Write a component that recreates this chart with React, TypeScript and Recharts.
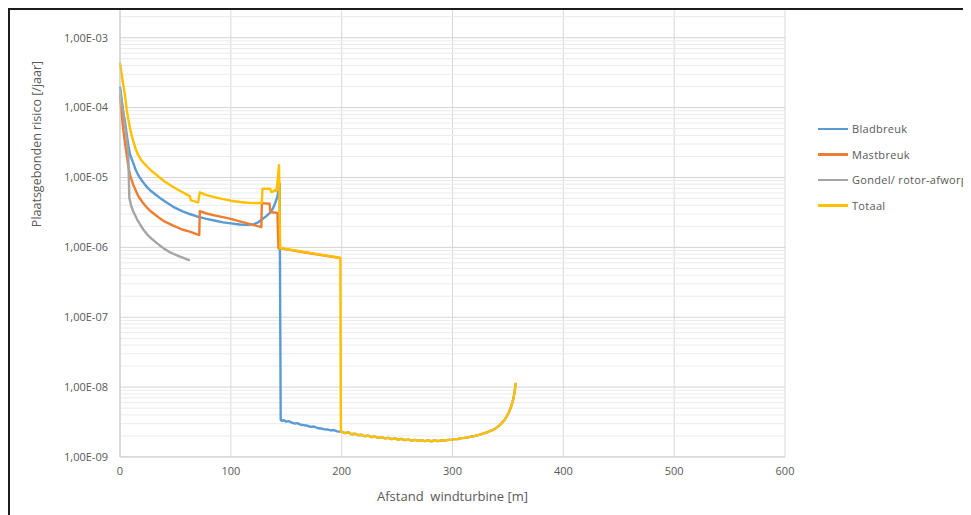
import React from 'react';
import { LineChart, Line, XAxis, YAxis, CartesianGrid, Label, ReferenceLine } from 'recharts';

// afstand tot windturbine [m]
const xTicks = [0, 100, 200, 300, 400, 500, 600];
const yTicks = [1e-9, 1e-8, 1e-7, 1e-6, 1e-5, 1e-4, 1e-3];

// Bladbreuk – nabije zone (tot mast/tiphoogte)
const bladNearX = [0, 1.5, 3, 4.5, 6, 7.5, 9, 10.5, 12, 14, 16, 18, 20, 22.5, 25, 28, 32, 36, 40, 48, 56, 63, 70, 78, 86, 93, 100, 108, 115, 121, 125, 128, 132, 135, 138, 140, 142, 143, 144];
const bladNearY = [2.0e-4, 1.3e-4, 8.5e-5, 6.3e-5, 4.2e-5, 2.9e-5, 2.15e-5, 1.85e-5, 1.6e-5, 1.3e-5, 1.12e-5, 9.9e-6, 8.9e-6, 7.9e-6, 7.1e-6, 6.4e-6, 5.7e-6, 5.1e-6, 4.6e-6, 3.8e-6, 3.3e-6, 3.0e-6, 2.75e-6, 2.55e-6, 2.4e-6, 2.28e-6, 2.2e-6, 2.12e-6, 2.1e-6, 2.15e-6, 2.3e-6, 2.5e-6, 2.8e-6, 3.1e-6, 3.6e-6, 4.3e-6, 5.3e-6, 6.5e-6, 8.3e-6];

// Bladbreuk – verre zone (na de sprong)
const bladFarX = [145, 146, 148, 150, 152, 155, 158, 160, 163, 166, 169, 172, 175, 178, 181, 184, 187, 190, 193, 196, 199,
  200, 203, 206, 209, 212, 215, 218, 221, 224, 227, 230, 233, 236, 239, 242, 245, 248, 251, 254, 257, 260, 263, 266, 269, 272, 275, 278, 281, 284, 287, 290, 293, 296, 299,
  302, 305, 308, 311, 314, 317, 320, 323, 326, 329, 332, 335, 338, 341, 344, 347, 349, 351, 353, 354.5, 356, 357];
const bladFarY = [3.4e-9, 3.3e-9, 3.36e-9, 3.2e-9, 3.26e-9, 3.1e-9, 3.0e-9, 3.06e-9, 2.9e-9, 2.86e-9, 2.8e-9, 2.7e-9, 2.73e-9, 2.6e-9, 2.56e-9, 2.5e-9, 2.48e-9, 2.4e-9, 2.43e-9, 2.33e-9, 2.3e-9,
  2.3e-9, 2.2e-9, 2.25e-9, 2.12e-9, 2.15e-9, 2.05e-9, 2.08e-9, 1.98e-9, 2.02e-9, 1.93e-9, 1.96e-9, 1.88e-9, 1.92e-9, 1.85e-9, 1.88e-9, 1.8e-9, 1.84e-9, 1.78e-9, 1.82e-9, 1.74e-9, 1.78e-9, 1.72e-9, 1.76e-9, 1.7e-9, 1.74e-9, 1.69e-9, 1.72e-9, 1.68e-9, 1.72e-9, 1.69e-9, 1.73e-9, 1.72e-9, 1.76e-9, 1.76e-9,
  1.8e-9, 1.81e-9, 1.86e-9, 1.88e-9, 1.92e-9, 1.96e-9, 2.0e-9, 2.06e-9, 2.12e-9, 2.2e-9, 2.28e-9, 2.38e-9, 2.52e-9, 2.72e-9, 3.0e-9, 3.4e-9, 3.85e-9, 4.4e-9, 5.3e-9, 6.4e-9, 8.3e-9, 1.15e-8];

// Mastbreuk
const mastX = [0, 1.5, 3, 4.5, 6, 7.5, 9, 10.5, 12, 14, 16, 18, 20, 22.5, 25, 28, 32, 36, 40, 48, 56, 63, 71.5, 72, 78, 86, 93, 100, 108, 115, 121, 127.5, 128, 135, 135.5, 142, 143, 146, 170, 199];
const mastY = [1.5e-4, 8e-5, 4.8e-5, 3.1e-5, 2.1e-5, 1.45e-5, 1.1e-5, 9.2e-6, 7.8e-6, 6.6e-6, 5.6e-6, 5.0e-6, 4.5e-6, 4.0e-6, 3.6e-6, 3.25e-6, 2.9e-6, 2.6e-6, 2.35e-6, 2.05e-6, 1.8e-6, 1.68e-6, 1.5e-6, 3.3e-6, 3.05e-6, 2.85e-6, 2.7e-6, 2.55e-6, 2.35e-6, 2.2e-6, 2.08e-6, 1.95e-6, 4.3e-6, 4.2e-6, 3.2e-6, 3.1e-6, 9.7e-7, 9.6e-7, 8.3e-7, 7.0e-7];

// Gondel / rotor-afworp
const gondelX = [0, 1.5, 3, 4.5, 6, 7.5, 8.4, 10, 11.5, 13.5, 15.5, 18, 21, 25, 28, 32, 36, 40, 44, 48, 52, 56, 60, 63];
const gondelY = [1.7e-4, 1.2e-4, 8.5e-5, 5.5e-5, 3.6e-5, 2.1e-5, 5.1e-6, 4.0e-6, 3.4e-6, 2.9e-6, 2.5e-6, 2.15e-6, 1.8e-6, 1.5e-6, 1.35e-6, 1.2e-6, 1.06e-6, 9.5e-7, 8.7e-7, 8.1e-7, 7.6e-7, 7.2e-7, 6.8e-7, 6.5e-7];

// Totaal (tot 200 m; daarna gelijk aan bladbreuk)
const totaalX = [0, 1.5, 3, 4.5, 6, 7.5, 9, 10.5, 12, 14, 16, 18, 20, 22.5, 25, 28, 32, 36, 40.5, 48, 56, 63, 64, 70.5, 72, 78, 86, 93, 100, 108.5, 115, 121, 128, 128.5, 135.5, 136.5, 138, 140, 141, 142, 143.5, 144.5, 146, 170, 198.8, 199.3];
const totaalY = [4.4e-4, 3.0e-4, 2.1e-4, 1.5e-4, 9.5e-5, 6.8e-5, 5.1e-5, 4.0e-5, 3.3e-5, 2.6e-5, 2.15e-5, 1.9e-5, 1.7e-5, 1.55e-5, 1.4e-5, 1.26e-5, 1.12e-5, 9.9e-6, 8.7e-6, 7.3e-6, 6.2e-6, 5.4e-6, 4.7e-6, 4.4e-6, 6.1e-6, 5.6e-6, 5.2e-6, 4.9e-6, 4.65e-6, 4.45e-6, 4.35e-6, 4.3e-6, 4.3e-6, 6.9e-6, 6.9e-6, 6.2e-6, 6.3e-6, 6.6e-6, 6.4e-6, 8.5e-6, 1.5e-5, 9.7e-7, 9.7e-7, 8.4e-7, 7.1e-7, 2.3e-9];

const toPoints = (xs: number[], ys: number[]) => xs.map((x, i) => ({ x, y: ys[i] }));

const bladData = toPoints([...bladNearX, ...bladFarX], [...bladNearY, ...bladFarY]);
const mastData = toPoints(mastX, mastY);
const gondelData = toPoints(gondelX, gondelY);
const totaalData = [
  ...toPoints(totaalX, totaalY),
  ...toPoints(bladFarX, bladFarY).filter(p => p.x >= 200),
];

const series = [
  { name: 'Bladbreuk', color: '#5B9BD5', data: bladData },
  { name: 'Mastbreuk', color: '#ED7D31', data: mastData },
  { name: 'Gondel/ rotor-afworp', color: '#A5A5A5', data: gondelData },
  { name: 'Totaal', color: '#FFC000', data: totaalData },
];

const Y_MAX = 2.49e-3;
const minorGrid = yTicks.flatMap(t => [2, 3, 4, 5, 6, 7, 8, 9].map(m => m * t)).filter(v => v < Y_MAX);

const FONT = '"Open Sans", "Noto Sans", sans-serif';

const fmtExp = (v: number) => {
  const e = Math.round(Math.log10(v));
  const sign = e < 0 ? '-' : '+';
  return `1,00E${sign}${String(Math.abs(e)).padStart(2, '0')}`;
};

const LegendBox = () => (
  <div style={{ position: 'absolute', left: 808, top: 106, fontFamily: FONT, fontSize: 11, color: '#595959' }}>
    {series.map(s => (
      <div key={s.name} style={{ display: 'flex', alignItems: 'center', height: 25.5, whiteSpace: 'nowrap' }}>
        <span style={{ display: 'inline-block', width: 30, height: 2.5, background: s.color, marginRight: 4 }} />
        <span style={{ letterSpacing: 0.3 }}>{s.name}</span>
      </div>
    ))}
  </div>
);

export default function App() {
  return (
    <div style={{ width: 963, height: 507, overflow: 'hidden', borderTop: '2px solid #1c1c1c', borderLeft: '2px solid #1c1c1c', boxSizing: 'border-box', background: '#fff' }}>
      <div style={{ position: 'relative', width: 1000, height: 505 }}>
        <LineChart width={1000} height={505} margin={{ top: 0, right: 225, left: 0, bottom: 0 }}>
          <CartesianGrid horizontal={false} stroke="#d9d9d9" strokeWidth={1} />
          {minorGrid.map(v => (
            <ReferenceLine key={v} y={v} stroke="#ebebeb" strokeWidth={1} ifOverflow="hidden" />
          ))}
          {yTicks.map(v => (
            <ReferenceLine key={'M' + v} y={v} stroke="#d4d4d4" strokeWidth={1} ifOverflow="hidden" />
          ))}
          <XAxis
            dataKey="x"
            type="number"
            domain={[0, 600]}
            ticks={xTicks}
            height={58}
            tickLine={false}
            tickSize={0}
            tickMargin={10}
            axisLine={{ stroke: '#c8c8c8' }}
            tick={{ fill: '#595959', fontSize: 11, fontFamily: FONT }}
            allowDuplicatedCategory
          >
            <Label value={'Afstand\u00A0 windturbine [m]'} position="insideBottom" offset={14} style={{ fill: '#595959', fontSize: 13, fontFamily: FONT }} />
          </XAxis>
          <YAxis
            dataKey="y"
            type="number"
            scale="log"
            domain={[1e-9, Y_MAX]}
            allowDataOverflow
            ticks={yTicks}
            width={110}
            tickLine={false}
            tickSize={0}
            tickMargin={12}
            axisLine={{ stroke: '#c8c8c8' }}
            tickFormatter={fmtExp}
            tick={{ fill: '#595959', fontSize: 11, fontFamily: FONT }}
          >
            <Label
              content={() => (
                <text x={28} y={134} transform="rotate(-90, 28, 134)" textAnchor="middle" dominantBaseline="middle" fill="#595959" fontSize={12.5} fontFamily={FONT}>
                  Plaatsgebonden risico [/jaar]
                </text>
              )}
            />
          </YAxis>
          {series.map(s => (
            <Line
              key={s.name}
              data={s.data}
              dataKey="y"
              name={s.name}
              type="linear"
              stroke={s.color}
              strokeWidth={2.4}
              strokeLinejoin="round"
              dot={false}
              activeDot={false}
              isAnimationActive={false}
            />
          ))}
        </LineChart>
        <LegendBox />
      </div>
    </div>
  );
}
